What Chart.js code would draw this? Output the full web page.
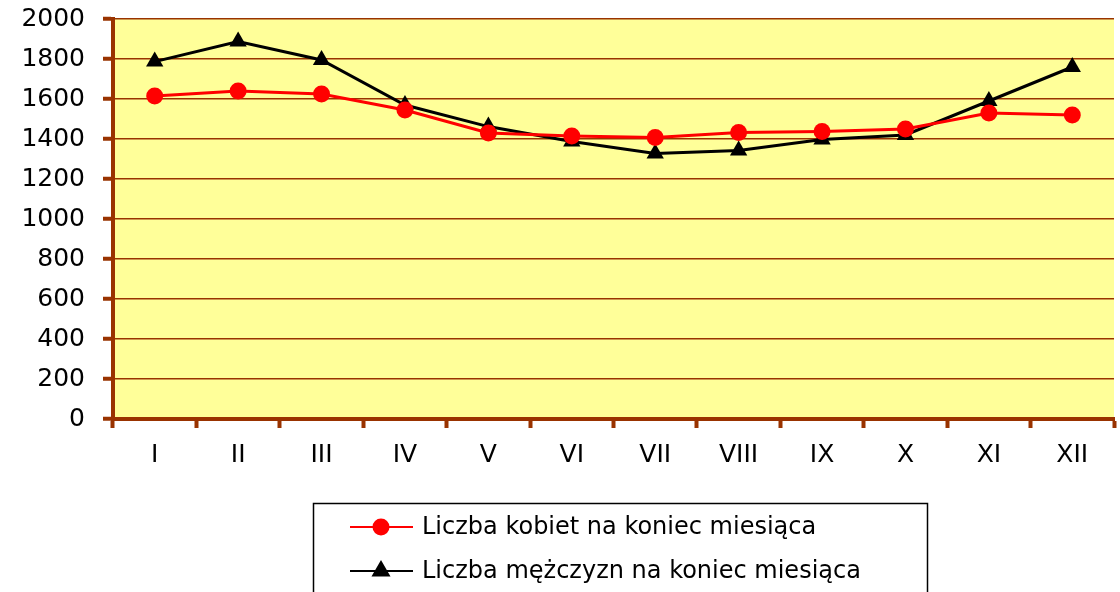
<!DOCTYPE html>
<html>
<head>
<meta charset="utf-8">
<script src="https://cdn.jsdelivr.net/npm/chart.js@4/dist/chart.umd.min.js"></script>
<style>
  html, body { margin: 0; padding: 0; background: #fff; overflow: hidden; }
  #wrap { width: 1124px; height: 592px; }
</style>
</head>
<body>
<div id="wrap"><canvas id="myChart"></canvas></div>
<script>
const months = ["I", "II", "III", "IV", "V", "VI", "VII", "VIII", "IX", "X", "XI", "XII"];
const women = [1615, 1640, 1625, 1545, 1430, 1415, 1407, 1432, 1437, 1450, 1530, 1520];
const men = [1787, 1887, 1795, 1570, 1462, 1388, 1328, 1342, 1398, 1420, 1590, 1760];
const yMin = 0;
const yMax = 2000;
const yStep = 200;

const brown = "#993300";
const fontFamily = "'DejaVu Sans', sans-serif";

// yellow plot background
const plotBg = {
  id: "plotBg",
  beforeDraw(chart) {
    const a = chart.chartArea;
    const ctx = chart.ctx;
    ctx.save();
    ctx.fillStyle = "#FFFF99";
    ctx.fillRect(a.left, a.top, a.right - a.left, a.bottom - a.top);
    ctx.restore();
  },
};

// boxed legend under the chart, line + marker samples
const legendBox = {
  id: "legendBox",
  afterDraw(chart) {
    const ctx = chart.ctx;
    ctx.save();
    ctx.strokeStyle = "#000";
    ctx.lineWidth = 1.5;
    ctx.strokeRect(313.5, 503.5, 614, 120);
    chart.data.datasets.forEach((ds, i) => {
      const y = 527 + i * 44;
      ctx.strokeStyle = ds.borderColor;
      ctx.lineWidth = 2;
      ctx.beginPath();
      ctx.moveTo(350, y);
      ctx.lineTo(413, y);
      ctx.stroke();
      ctx.fillStyle = ds.pointBackgroundColor;
      ctx.strokeStyle = ds.pointBorderColor;
      Chart.helpers.drawPoint(ctx, {
        pointStyle: ds.pointStyle,
        radius: ds.pointRadius - 1,
        borderWidth: 1,
      }, 381, y);
      ctx.fillStyle = "#000";
      ctx.font = "24px " + fontFamily;
      ctx.textBaseline = "middle";
      ctx.textAlign = "left";
      ctx.fillText(ds.label, 422, y + 1);
    });
    ctx.restore();
  },
};

const data = {
  labels: months,
  datasets: [
    {
      label: "Liczba kobiet na koniec miesiąca",
      data: women,
      borderColor: "#FF0000",
      borderWidth: 3,
      pointStyle: "circle",
      pointRadius: 8.5,
      pointBackgroundColor: "#FF0000",
      pointBorderColor: "#FF0000",
      pointBorderWidth: 0,
      tension: 0,
    },
    {
      label: "Liczba mężczyzn na koniec miesiąca",
      data: men,
      borderColor: "#000000",
      borderWidth: 3,
      pointStyle: "triangle",
      pointRadius: 10,
      pointBackgroundColor: "#000000",
      pointBorderColor: "#000000",
      pointBorderWidth: 0,
      tension: 0,
    },
  ],
};

const config = {
  type: "line",
  data: data,
  options: {
    responsive: true,
    maintainAspectRatio: false,
    animation: false,
    layout: {
      padding: { top: 0, bottom: 113, left: 0, right: 0 },
    },
    plugins: {
      legend: { display: false },
      tooltip: { enabled: false },
    },
    scales: {
      x: {
        offset: true,
        grid: {
          offset: true,
          drawOnChartArea: false,
          tickLength: 9,
          tickWidth: 4,
          tickColor: brown,
        },
        border: { display: true, color: brown, width: 4 },
        ticks: {
          color: "#000",
          padding: 12,
          font: { family: fontFamily, size: 25 },
        },
        afterFit: (scale) => {
          scale.height = 60;
        },
      },
      y: {
        min: yMin,
        max: yMax,
        grid: {
          color: brown,
          lineWidth: 1.5,
          tickLength: 10,
          tickWidth: 4,
          tickColor: brown,
        },
        border: { display: true, color: brown, width: 4 },
        ticks: {
          stepSize: yStep,
          color: "#000",
          padding: 18,
          font: { family: fontFamily, size: 25 },
          callback: (v) => String(v),
        },
        afterFit: (scale) => {
          scale.width = 113;
          scale.paddingTop = 19;
        },
      },
    },
  },
  plugins: [plotBg, legendBox],
};

const myChart = new Chart(document.getElementById("myChart"), config);
</script>
</body>
</html>
